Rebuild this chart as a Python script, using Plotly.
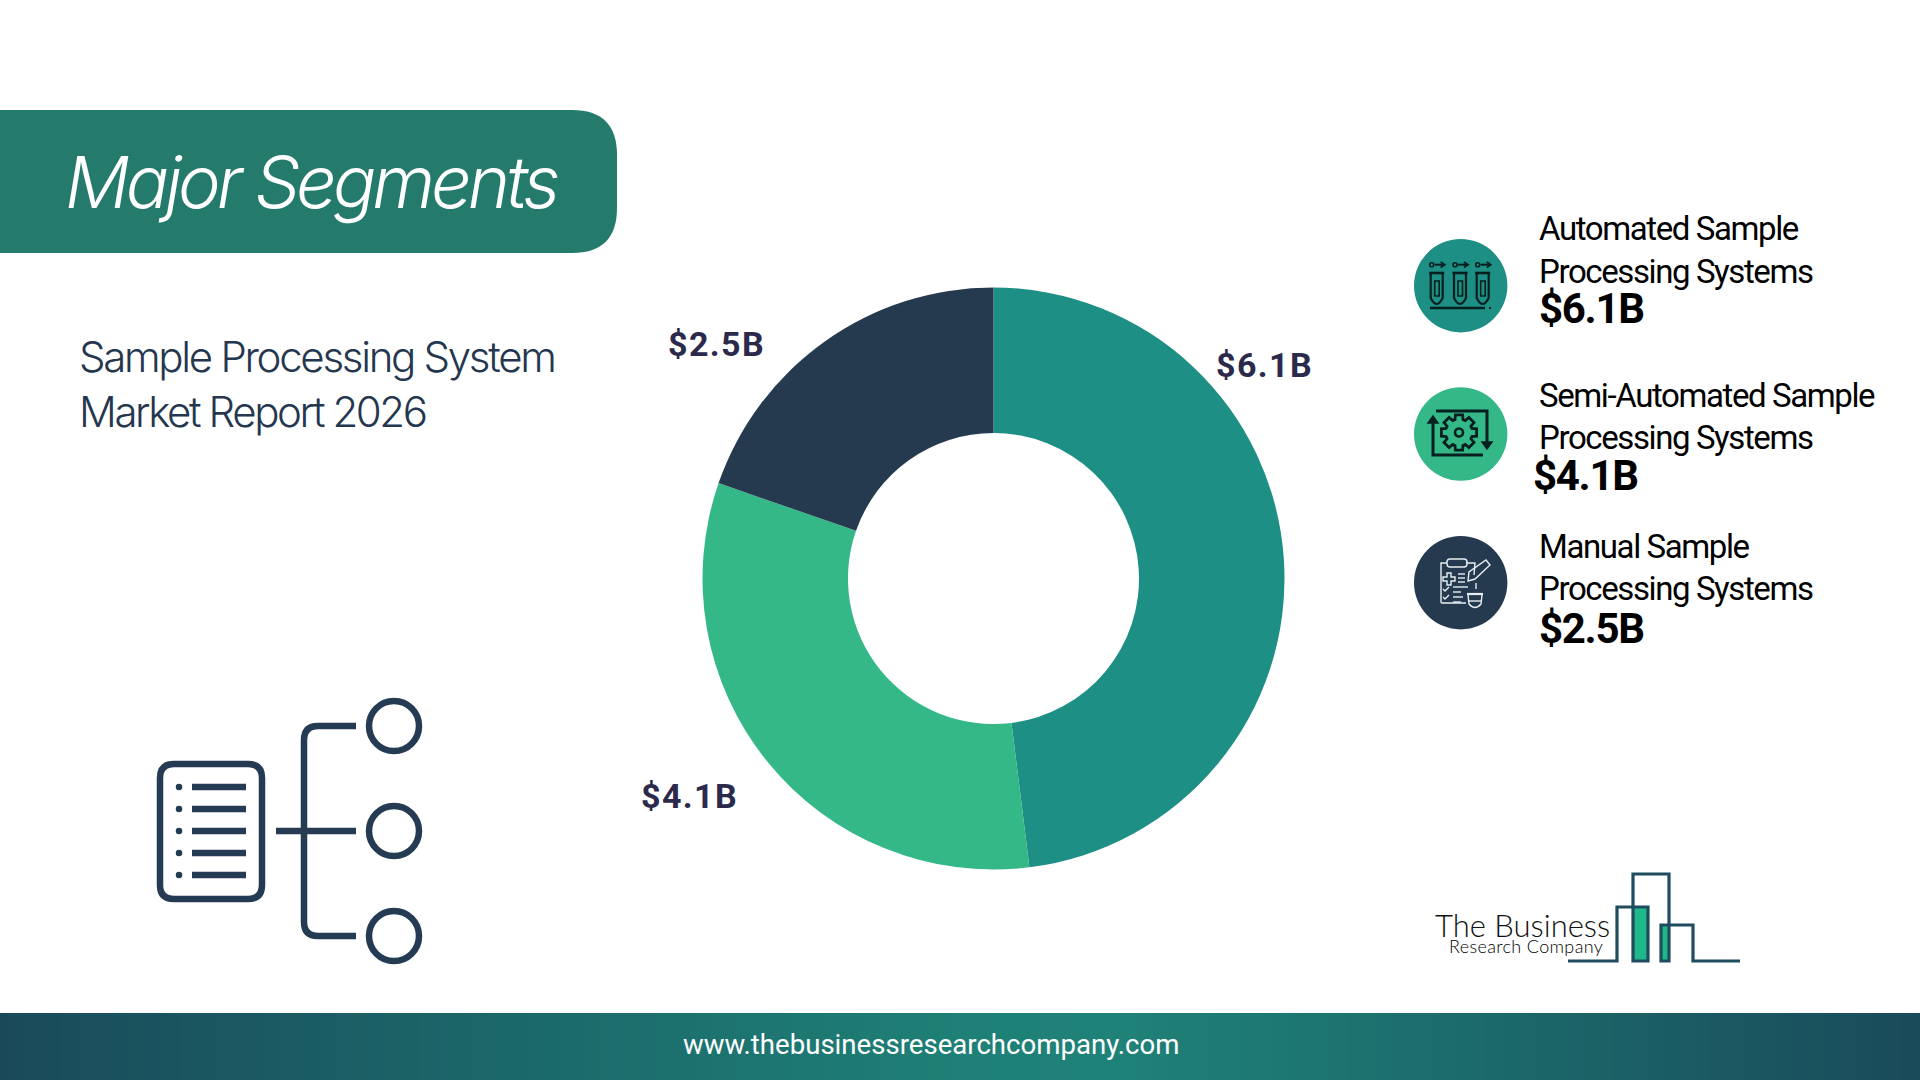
import math

import plotly.graph_objects as go

# segment data
segments = ["Automated Sample Processing Systems", "Semi-Automated Sample Processing Systems", "Manual Sample Processing Systems"]
values = [6.1, 4.1, 2.5]
value_labels = ["$6.1B", "$4.1B", "$2.5B"]
legend_lines = [
    ["Automated Sample", "Processing Systems"],
    ["Semi-Automated Sample", "Processing Systems"],
    ["Manual Sample", "Processing Systems"],
]
seg_colors = ["#1D8F85", "#34B888", "#25394F"]

NAVY = "#243B53"
W, H = 1920, 1080

fig = go.Figure()

# footer gradient
footer_stops = [0, 1, 2, 3, 4, 5, 6]
footer_scale = [
    [0.0, "#1A4A5A"], [0.25, "#1B6669"], [0.5, "#1E8076"], [0.58, "#1F8278"],
    [0.8, "#1B6669"], [1.0, "#1A4A5A"],
]
fig.add_trace(go.Heatmap(
    z=[footer_stops, footer_stops], x=[0, 320, 640, 960, 1280, 1600, 1920], y=[1030, 1064],
    colorscale=footer_scale, showscale=False, zsmooth="best", hoverinfo="skip",
))

# donut
fig.add_trace(go.Pie(
    labels=segments, values=values, hole=0.5, sort=False, direction="clockwise", rotation=0,
    marker=dict(colors=seg_colors, line=dict(width=0)), textinfo="none", showlegend=False,
    domain=dict(x=[(993.5 - 291) / W, (993.5 + 291) / W], y=[1 - (578.5 + 291) / H, 1 - (578.5 - 291) / H]),
))


def line(x0, y0, x1, y1, color=NAVY, width=6):
    fig.add_shape(type="line", x0=x0, y0=y0, x1=x1, y1=y1, line=dict(color=color, width=width))


def path(d, color=NAVY, width=6, fill=None):
    fig.add_shape(type="path", path=d, line=dict(color=color, width=width), fillcolor=fill or "rgba(0,0,0,0)")


def circle(cx, cy, r, color=NAVY, width=6, fill=None):
    fig.add_shape(type="circle", x0=cx - r, y0=cy - r, x1=cx + r, y1=cy + r,
                  line=dict(color=color, width=width), fillcolor=fill or "rgba(0,0,0,0)")


def round_rect(x0, y0, x1, y1, r):
    return (f"M{x0 + r},{y0} L{x1 - r},{y0} Q{x1},{y0} {x1},{y0 + r} L{x1},{y1 - r} Q{x1},{y1} {x1 - r},{y1} "
            f"L{x0 + r},{y1} Q{x0},{y1} {x0},{y1 - r} L{x0},{y0 + r} Q{x0},{y0} {x0 + r},{y0} Z")


# title banner
fig.add_shape(type="path", line=dict(width=0), fillcolor="#247B6C",
              path="M0,110 L572,110 Q617,110 617,155 L617,208 Q617,253 572,253 L0,253 Z")

# document + tree icon
path(round_rect(160, 764, 262, 899, 14), width=6.5)
for y in [787, 809, 831, 853, 875]:
    circle(179, y, 2.5, width=1.5, fill=NAVY)
    line(192, y, 246, y, width=6.5)
line(276, 831, 356, 831, width=6.5)
path("M356,726 L318,726 Q304,726 304,740 L304,922 Q304,936 318,936 L356,936", width=6.5)
for y in [726, 831, 936]:
    circle(394, y, 25, width=6.5)

# right column icons
for y, c in zip([285.7, 434, 582.7], ["#1D8F85", "#34B888", "#25394F"]):
    circle(1460.7, y, 46.7, color=c, width=0, fill=c)

# test tubes
INK = "#06201F"
for x in [1436.7, 1460, 1482.7]:
    circle(x - 5, 264.7, 2, color=INK, width=1.6)
    line(x - 2, 264.7, x + 7, 264.7, color=INK, width=2)
    path(f"M{x + 4},262 L{x + 8},264.7 L{x + 4},267.4", color=INK, width=1.8)
    line(x - 7.5, 273, x + 7.5, 273, color=INK, width=2.6)
    path(f"M{x - 6},274 L{x - 6},298 Q{x},310 {x + 6},298 L{x + 6},274", color=INK, width=2.2)
    path(f"M{x - 2},281 L{x + 2.5},281 L{x + 2.5},296 L{x - 2},296 Z", color=INK, width=1.6)
line(1430, 308, 1485, 308, color=INK, width=2.6)
line(1489, 308, 1491, 308, color=INK, width=2)

# gear with arrows
GX, GY = 1459, 432.5
gear = []
for i in range(8):
    a = i * math.pi / 4 - math.pi / 2
    for da, r in [(-0.3, 13.5), (-0.2, 18), (0.2, 18), (0.3, 13.5)]:
        gear.append(f"{GX + r * math.cos(a + da):.1f},{GY + r * math.sin(a + da):.1f}")
path("M" + " L".join(gear) + " Z", color=INK, width=2.8)
circle(GX, GY, 4, color=INK, width=2.6)
path("M1436,411 L1487,411 L1487,443", color=INK, width=3)
path("M1482,442 L1492,442 L1487,449 Z", color=INK, width=1.5, fill=INK)
path("M1433,421 L1433,455 L1483,455", color=INK, width=3)
path("M1428,423 L1438,423 L1433,416 Z", color=INK, width=1.5, fill=INK)

# clipboard
W_ICON = "#E8EEF2"
path("M1447,563 L1441,563 L1441,602 Q1441,603 1442,603 L1466,603", color=W_ICON, width=1.4)
path("M1466,563 L1475,563 L1474,575", color=W_ICON, width=1.4)
path(round_rect(1447, 559, 1467, 567, 3), color=W_ICON, width=1.4)
path("M1447,573 L1451,573 L1451,577 L1455,577 L1455,581 L1451,581 L1451,585 L1447,585 L1447,581 "
     "L1443,581 L1443,577 L1447,577 Z", color=W_ICON, width=1.4)
for y in [574, 578, 582]:
    line(1458, y, 1465, y, color=W_ICON, width=1.4)
path("M1468,581 L1469,572 L1486,560 L1490,565 L1475,579 Z", color=W_ICON, width=1.4)
for y in [589, 597]:
    path(f"M1443,{y} L1445,{y + 2} L1449,{y - 2}", color=W_ICON, width=1.4)
for x1, y in [(1468, 587), (1461, 592), (1463, 597), (1461, 602)]:
    line(1453, y, x1, y, color=W_ICON, width=1.4)
line(1476, 583, 1476, 589, color=W_ICON, width=1.4)
line(1467, 594, 1483, 594, color=W_ICON, width=2.2)
path("M1468,595 L1469,604 Q1475,611 1481,604 L1482,595", color=W_ICON, width=1.4)
line(1468, 601, 1482, 601, color=W_ICON, width=1.4)

# logo
LOGO = "#1F4D5F"
LOGO_GREEN = "#1FB88A"
fig.add_shape(type="rect", x0=1634, y0=908, x1=1648, y1=961, fillcolor=LOGO_GREEN, line=dict(width=0))
fig.add_shape(type="rect", x0=1661, y0=926, x1=1668, y1=961, fillcolor=LOGO_GREEN, line=dict(width=0))
path("M1568,961 L1617,961 L1617,907 L1648,907 L1648,961 L1633,961 L1633,874 L1669,874 L1669,961 "
     "L1661,961 L1661,925 L1693,925 L1693,961 L1740,961", color=LOGO, width=3.2)


# text, tightened with letter-spacing like the original artwork
def text(x, y, s, size, color="#000000", family="Roboto", weight=400, style="normal", anchor="left", spacing=0):
    fig.add_annotation(x=x, y=y, text=f'<span style="letter-spacing:{spacing}px">{s}</span>', showarrow=False,
                       xanchor=anchor, yanchor="middle",
                       font=dict(family=family, size=size, color=color, weight=weight, style=style))


text(63, 181, "Major Segments", 72, color="#FFFFFF", family="Inter", weight=300, style="italic", spacing=-4.05)
text(76.5, 356, "Sample Processing System", 42, color="#24374F", family="Inter", weight=300, spacing=-2.3)
text(76.5, 411, "Market Report 2026", 42, color="#24374F", family="Inter", weight=300, spacing=-2.4)

legend_y = [(228, 271, 308), (395, 437, 475), (546, 588, 628)]
value_x = [1536.5, 1530.5, 1536.5]
for lines, ys, lab, vx in zip(legend_lines, legend_y, value_labels, value_x):
    text(1536.5, ys[0], lines[0], 33, spacing=-1.4)
    text(1536.5, ys[1], lines[1], 33, spacing=-1.4)
    text(vx, ys[2], lab, 42, weight=700, spacing=-1.3)

label_pos = [(1264, 365), (689, 796), (716, 344)]
for (x, y), lab in zip(label_pos, value_labels):
    text(x, y, lab, 34, color="#2B2A4C", weight=700, anchor="center", spacing=1.4)

text(1612, 925, "The Business", 31, color="#111111", family="Lato", weight=300, anchor="right")
text(1604.5, 946, "Research Company", 18, color="#000000", family="Lato", weight=300, anchor="right", spacing=0.35)
text(930.5, 1044, "www.thebusinessresearchcompany.com", 27.6, color="#FFFFFF", anchor="center")

fig.update_layout(
    width=W, height=H, margin=dict(l=0, r=0, t=0, b=0), paper_bgcolor="white", plot_bgcolor="white",
    showlegend=False,
    xaxis=dict(range=[0, W], visible=False, fixedrange=True),
    yaxis=dict(range=[H, 0], visible=False, fixedrange=True),
)

# page body has a default margin that would push the figure off the canvas
fig.write_html("out.html", config={"displayModeBar": False}, post_script="document.body.style.margin='0';")
